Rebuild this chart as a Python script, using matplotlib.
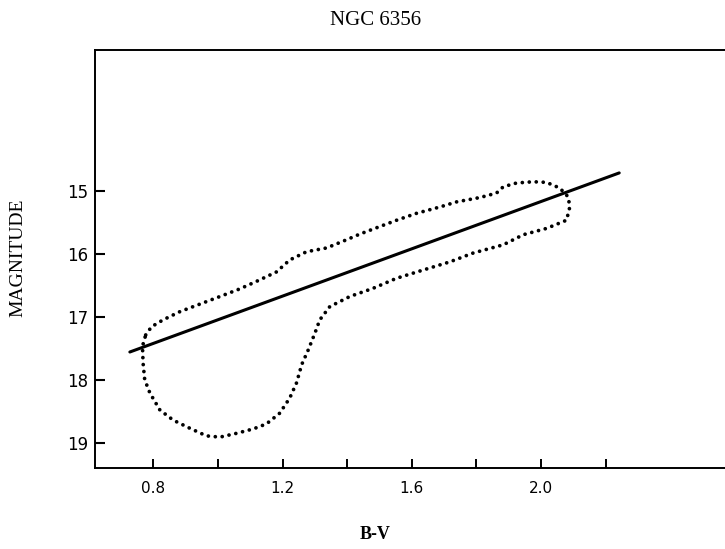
import matplotlib
matplotlib.use("Agg")
import matplotlib.pyplot as plt

# closed outline of the cluster sequence (B-V, V)
outline_bv = [0.776, 0.794, 0.830, 0.882, 0.944, 1.006, 1.067, 1.119, 1.181, 1.222,
              1.274, 1.336, 1.398, 1.439, 1.501, 1.553, 1.615, 1.687, 1.738, 1.811,
              1.862, 1.883, 1.924, 1.976, 2.017, 2.058, 2.084, 2.089, 2.079,
              2.017, 1.945, 1.883, 1.790, 1.718, 1.635, 1.553, 1.480, 1.408, 1.346,
              1.315, 1.300, 1.279, 1.259, 1.243, 1.222, 1.191, 1.150, 1.109, 1.057,
              1.006, 0.964, 0.913, 0.861, 0.820, 0.789, 0.773, 0.768, 0.766, 0.776]
outline_mag = [17.29, 17.16, 17.05, 16.92, 16.80, 16.68, 16.56, 16.44, 16.29, 16.10,
               15.97, 15.91, 15.78, 15.69, 15.57, 15.47, 15.36, 15.26, 15.18, 15.11,
               15.04, 14.94, 14.88, 14.86, 14.87, 14.96, 15.10, 15.26, 15.47,
               15.60, 15.70, 15.86, 15.99, 16.13, 16.26, 16.39, 16.55, 16.68, 16.84,
               17.05, 17.26, 17.53, 17.76, 18.05, 18.29, 18.53, 18.70, 18.78, 18.85,
               18.91, 18.89, 18.77, 18.64, 18.48, 18.21, 18.00, 17.74, 17.47, 17.29]

# straight fitted line
line_bv = [0.727, 2.242]
line_mag = [17.56, 14.72]

xticks = [0.8, 1.0, 1.2, 1.4, 1.6, 1.8, 2.0, 2.2]
xticklabels = ["0.8", "", "1.2", "", "1.6", "", "2.0", ""]
yticks = [15, 16, 17, 18, 19]

fig = plt.figure(figsize=(7.25, 5.49), dpi=100)
ax = fig.add_axes([0.131, 0.1475, 0.875, 0.7615])

ax.plot(outline_bv, outline_mag, color="black", linewidth=2.7,
        linestyle=(0, (0.01, 1.85)), dash_capstyle="round", solid_capstyle="round")
ax.plot(line_bv, line_mag, color="black", linewidth=2.2, solid_capstyle="round")

ax.set_xlim(0.619, 2.583)
ax.set_ylim(19.40, 12.77)

ax.set_xticks(xticks)
ax.set_xticklabels(xticklabels, fontsize=11, family="DejaVu Sans")
ax.set_yticks(yticks)
ax.set_yticklabels([str(t) for t in yticks], fontsize=12, family="DejaVu Sans")
ax.tick_params(axis="x", direction="in", length=6.5, width=1.4, pad=9, top=False)
ax.tick_params(axis="y", direction="in", length=7, width=1.5, pad=5, right=False)

ax.spines["right"].set_visible(False)
for s in ["left", "bottom", "top"]:
    ax.spines[s].set_linewidth(1.4)

fig.text(0.518, 0.962, "NGC 6356", ha="center", va="center",
         fontsize=15, family="Liberation Serif")
fig.text(0.518, 0.026, "B-V", ha="center", va="center",
         fontsize=13, family="Liberation Serif", fontweight="bold")
fig.text(0.024, 0.53, "MAGNITUDE", ha="center", va="center", rotation=90,
         fontsize=14, family="Liberation Serif")

fig.savefig("out.png", dpi=100)
